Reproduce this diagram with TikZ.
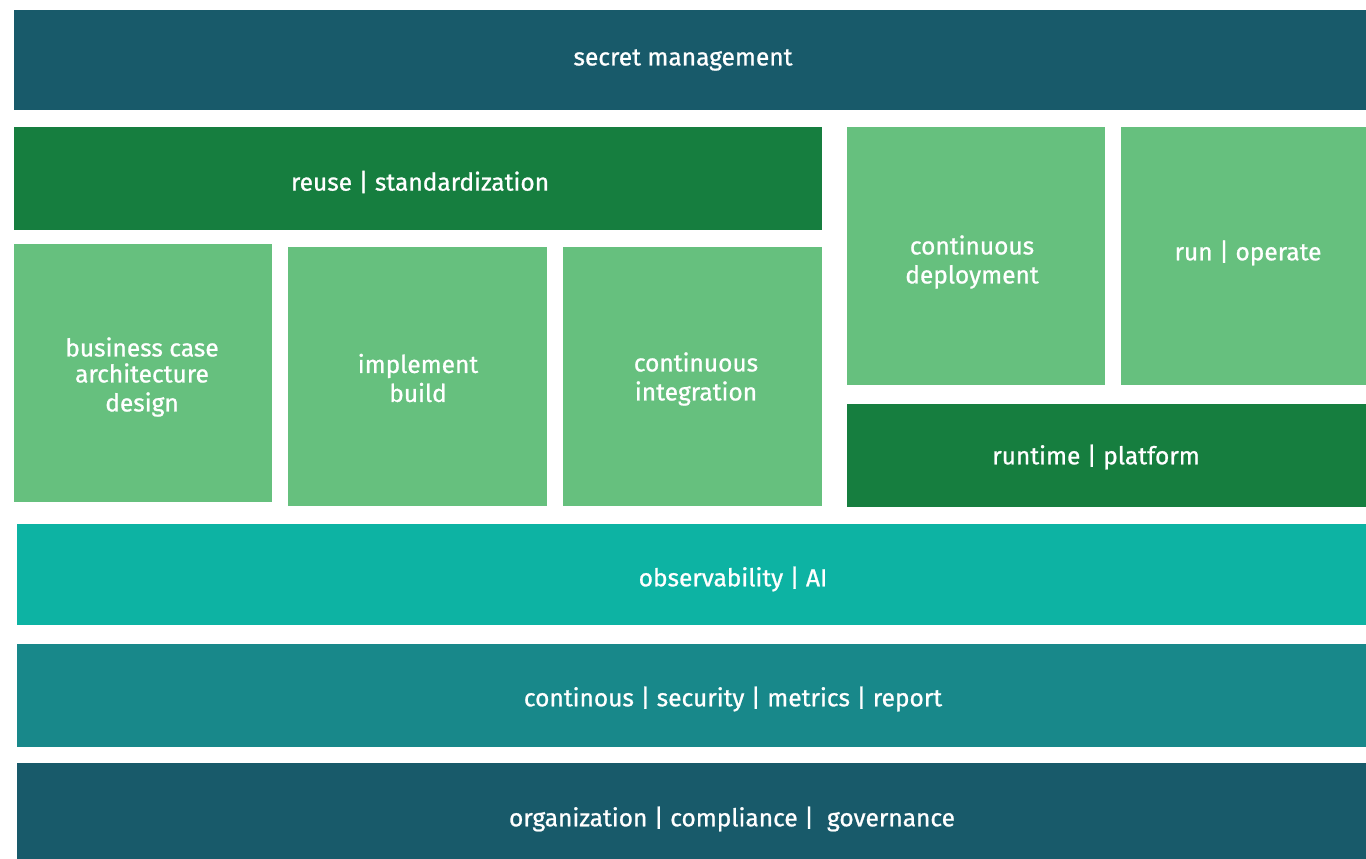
\documentclass[tikz,border=0pt]{standalone}
\usepackage{fontspec}
\setmainfont{Fira Sans}
\newfontfamily\lblfont[FakeBold=0.9]{Fira Sans}
\definecolor{cdark}{HTML}{185A6A}
\definecolor{cgreen}{HTML}{167E3F}
\definecolor{clight}{HTML}{66C07E}
\definecolor{cteal}{HTML}{0DB3A3}
\definecolor{csec}{HTML}{18888A}
\tikzset{
  box/.style={rectangle, inner sep=0pt, outer sep=0pt, draw=none, anchor=north west},
  lbl/.style={text=white, inner sep=0pt, align=center, font=\lblfont\fontsize{24.5}{29}\selectfont}
}
\begin{document}
\begin{tikzpicture}[x=1pt,y=-1pt]
\useasboundingbox (0,0) rectangle (1366,859);
\node[box, fill=cdark, minimum width=1352pt, minimum height=100pt] (secret) at (14,10) {};
\node[box, fill=cgreen, minimum width=808pt, minimum height=103pt] (reuse) at (14,127) {};
\node[box, fill=clight, minimum width=258pt, minimum height=258pt] (cd) at (847,127) {};
\node[box, fill=clight, minimum width=245pt, minimum height=258pt] (run) at (1121,127) {};
\node[box, fill=clight, minimum width=258pt, minimum height=258pt] (biz) at (14,244) {};
\node[box, fill=clight, minimum width=259pt, minimum height=259pt] (impl) at (288,247) {};
\node[box, fill=clight, minimum width=259pt, minimum height=259pt] (ci) at (563,247) {};
\node[box, fill=cgreen, minimum width=519pt, minimum height=103pt] (runtime) at (847,404) {};
\node[box, fill=cteal, minimum width=1349pt, minimum height=101pt] (obs) at (17,524) {};
\node[box, fill=csec, minimum width=1349pt, minimum height=103pt] (sec) at (17,644) {};
\node[box, fill=cdark, minimum width=1349pt, minimum height=96pt] (org) at (17,763) {};

\node[lbl] (tsecret) at (683,60) {secret management};
\node[lbl] (treuse) at (420,182) {reuse | standardization};
\node[lbl] (tcd) at (972,262) {continuous\\deployment};
\node[lbl] (trun) at (1248,253) {run | operate};
\node[lbl] (tbiz) at (142,377) {business case\\[-3pt]architecture\\design};
\node[lbl] (timpl) at (418,378) {implement\\build};
\node[lbl] (tci) at (696,379) {continuous\\integration};
\node[lbl] (truntime) at (1096,457) {runtime | platform};
\node[lbl] (tobs) at (733,579) {observability | AI};
\node[lbl] (tsec) at (733,699) {continous | security | metrics | report};
\node[lbl] (torg) at (732,819) {organization | compliance |\ \ governance};
\end{tikzpicture}
\end{document}
